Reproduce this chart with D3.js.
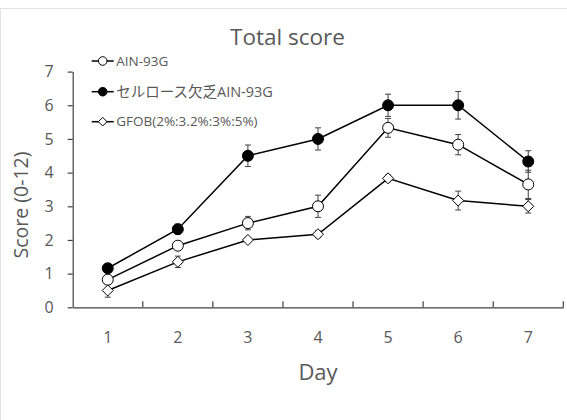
<!DOCTYPE html>
<html><head><meta charset="utf-8">
<script src="https://cdn.jsdelivr.net/npm/d3@7"></script>
<style>
html,body{margin:0;padding:0;background:#fff;}
svg{display:block;font-family:"Open Sans","Noto Sans CJK JP",sans-serif;}
</style></head>
<body>
<svg id="chart" width="567" height="420"></svg>
<script>
const days = ["1","2","3","4","5","6","7"];
const yTicks = [0,1,2,3,4,5,6,7];
const seriesNames = ["AIN-93G","セルロース欠乏AIN-93G","GFOB(2%:3.2%:3%:5%)"];
const ainMean = [0.82, 1.83, 2.5, 3.0, 5.33, 4.83, 3.65];
const ainErr  = [0.1, 0.1, 0.2, 0.33, 0.28, 0.3, 0.42];
const celMean = [1.16, 2.32, 4.5, 5.0, 6.0, 6.0, 4.33];
const celErr  = [0.08, 0.15, 0.32, 0.33, 0.33, 0.41, 0.32];
const gfoMean = [0.5, 1.35, 2.0, 2.17, 3.83, 3.17, 3.0];
const gfoErr  = [0.2, 0.17, 0.05, 0.1, 0.1, 0.28, 0.2];

const series = [
  {name: seriesNames[0], mean: ainMean, err: ainErr, shape: "circle", fill: "#fff"},
  {name: seriesNames[1], mean: celMean, err: celErr, shape: "circle", fill: "#000"},
  {name: seriesNames[2], mean: gfoMean, err: gfoErr, shape: "diamond", fill: "#fff"}
];

const svg = d3.select("#chart");
const textColor = "#595959";
const axisColor = "#404040";

// frame border
svg.append("rect").attr("x",0.5).attr("y",8.5).attr("width",600).attr("height",500)
  .attr("fill","none").attr("stroke","#e3e3e3").attr("stroke-width",1);

const x = d3.scaleBand().domain(days).range([72.7, 563.3]).padding(0);
const y = d3.scaleLinear().domain([0,7]).range([307.3, 71.6]);

// Y axis
const yAxis = svg.append("g").attr("transform","translate(72.7,0)")
  .call(d3.axisLeft(y).tickValues(yTicks).tickFormat(d3.format("d")).tickSize(5).tickSizeOuter(0).tickPadding(14));
yAxis.select(".domain").attr("stroke",axisColor).attr("stroke-width",1.2);
yAxis.selectAll(".tick line").attr("stroke",axisColor).attr("stroke-width",1.2);
yAxis.selectAll(".tick text").attr("fill",textColor).attr("font-size",16)
  .attr("font-family","'Open Sans',sans-serif");

// X axis
const xAxis = svg.append("g").attr("transform","translate(0,307.3)")
  .call(d3.axisBottom(x).tickSize(0).tickSizeOuter(0).tickPadding(24));
xAxis.select(".domain").attr("stroke",axisColor).attr("stroke-width",1.2);
xAxis.selectAll(".tick text").attr("fill",textColor).attr("font-size",16)
  .attr("font-family","'Open Sans',sans-serif");
// band boundary ticks (inward)
xAxis.selectAll("line.bt").data(days).enter().append("line").attr("class","bt")
  .attr("x1", d => x(d) + x.bandwidth()).attr("x2", d => x(d) + x.bandwidth())
  .attr("y1",0).attr("y2",-6).attr("stroke",axisColor).attr("stroke-width",1.2);

// Title & axis titles
svg.append("text").attr("x",287.5).attr("y",45).attr("text-anchor","middle")
  .attr("font-size",22.5).attr("fill",textColor).text("Total score");
svg.append("text").attr("x",318).attr("y",380).attr("text-anchor","middle")
  .attr("font-size",22).attr("fill",textColor).text("Day");
svg.append("text").attr("transform","translate(28,205) rotate(-90)").attr("text-anchor","middle")
  .attr("font-size",19.5).attr("fill",textColor).text("Score (0-12)");

const cx = d => x(d) + x.bandwidth()/2;
const line = d3.line().x((v,i) => cx(days[i])).y(v => y(v));
const diamond = r => `M0,${-r}L${r},0L0,${r}L${-r},0Z`;

// error bars
series.forEach(s => {
  const g = svg.append("g");
  s.mean.forEach((m,i) => {
    const xc = cx(days[i]);
    const e = s.err[i];
    g.append("line").attr("x1",xc).attr("x2",xc).attr("y1",y(m-e)).attr("y2",y(m+e))
      .attr("stroke",axisColor).attr("stroke-width",1);
    [m-e, m+e].forEach(v => g.append("line").attr("x1",xc-3).attr("x2",xc+3)
      .attr("y1",y(v)).attr("y2",y(v)).attr("stroke",axisColor).attr("stroke-width",1));
  });
});

// lines
series.forEach(s => {
  svg.append("path").datum(s.mean).attr("d",line).attr("fill","none")
    .attr("stroke","#000").attr("stroke-width",1.5);
});

// markers
series.forEach(s => {
  const g = svg.append("g");
  s.mean.forEach((m,i) => {
    if (s.shape === "circle") {
      g.append("circle").attr("cx",cx(days[i])).attr("cy",y(m)).attr("r",5.5)
        .attr("fill",s.fill).attr("stroke","#000").attr("stroke-width",1);
    } else {
      g.append("path").attr("transform",`translate(${cx(days[i])},${y(m)})`).attr("d",diamond(5.5))
        .attr("fill",s.fill).attr("stroke","#000").attr("stroke-width",1);
    }
  });
});

// legend
const legendY = [61, 91.7, 121.7];
const legendSize = [13.5, 14.5, 13.5];
series.forEach((s,i) => {
  const g = svg.append("g").attr("transform",`translate(102.7,${legendY[i]})`);
  g.append("line").attr("x1",-11).attr("x2",11).attr("y1",0).attr("y2",0)
    .attr("stroke","#000").attr("stroke-width",1.5);
  if (s.shape === "circle") {
    g.append("circle").attr("r",4.3).attr("fill",s.fill).attr("stroke","#000").attr("stroke-width",1);
  } else {
    g.append("path").attr("d",diamond(4.3)).attr("fill",s.fill).attr("stroke","#000").attr("stroke-width",1);
  }
  g.append("text").attr("x",13.5).attr("y",0).attr("dy","0.35em")
    .attr("font-size",legendSize[i]).attr("fill",textColor).text(s.name);
});
</script>
</body></html>
